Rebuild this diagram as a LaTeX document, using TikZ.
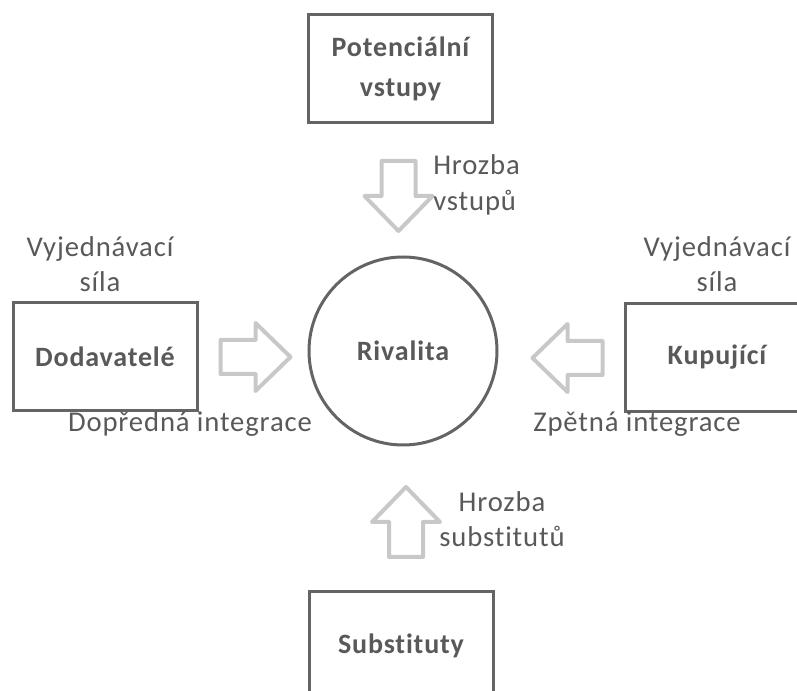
\documentclass[tikz,border=0pt]{standalone}
\usepackage{fontspec}
\setmainfont{Carlito}[Ligatures=NoCommon, LetterSpace=3]
\definecolor{txt}{HTML}{595959}
\definecolor{edge}{HTML}{646464}
\definecolor{pale}{HTML}{C8C8C8}
\tikzset{
  box/.style={draw=edge, line width=2.25pt, minimum width=138pt, minimum height=81pt,
    text=txt, font=\fontsize{21}{30}\selectfont\bfseries, align=center},
  lbl/.style={text=txt, font=\fontsize{21.5}{26.5}\selectfont, align=center, inner sep=0pt},
  pics/force/.style={code={
    \draw[draw=pale, line width=3pt, line join=round]
      (-17,-35) -- (17,-35) -- (17,0) -- (34,0) -- (0,35) -- (-34,0) -- (-17,0) -- cycle;
  }}
}
\begin{document}
\begin{tikzpicture}[x=0.75pt,y=-0.75pt]
  \useasboundingbox (0,0) rectangle (797,691);
  \clip (0,0) rectangle (797,691);
  \node[box] (vstupy) at (400.5,69) {Potenciální\\vstupy};
  \node[box] (dod) at (105,356.5) {Dodavatelé};
  \node[box] (kup) at (717,357.5) {Kupující};
  \node[box] (subst) at (401,646) {Substituty};
  \node[circle, draw=edge, line width=2.25pt, minimum size=141pt, text=txt,
    font=\fontsize{21}{26}\selectfont\bfseries] (rival) at (403,351) {Rivalita};
  \pic at (398.5,196) {force};
  \pic[rotate=90] at (255.5,357) {force};
  \pic[rotate=-90] at (567.5,358) {force};
  \pic[rotate=180] at (406,522) {force};
  \node[lbl, anchor=west, align=left] (hv) at (433,185) {Hrozba\\vstupů};
  \node[lbl] (sila1) at (100,264) {Vyjednávací\\síla};
  \node[lbl] (sila2) at (717,264) {Vyjednávací\\síla};
  \node[lbl] (dopr) at (190,424) {Dopředná integrace};
  \node[lbl] (zpet) at (637,424) {Zpětná integrace};
  \node[lbl] (hs) at (502,519) {Hrozba\\substitutů};
\end{tikzpicture}
\end{document}
